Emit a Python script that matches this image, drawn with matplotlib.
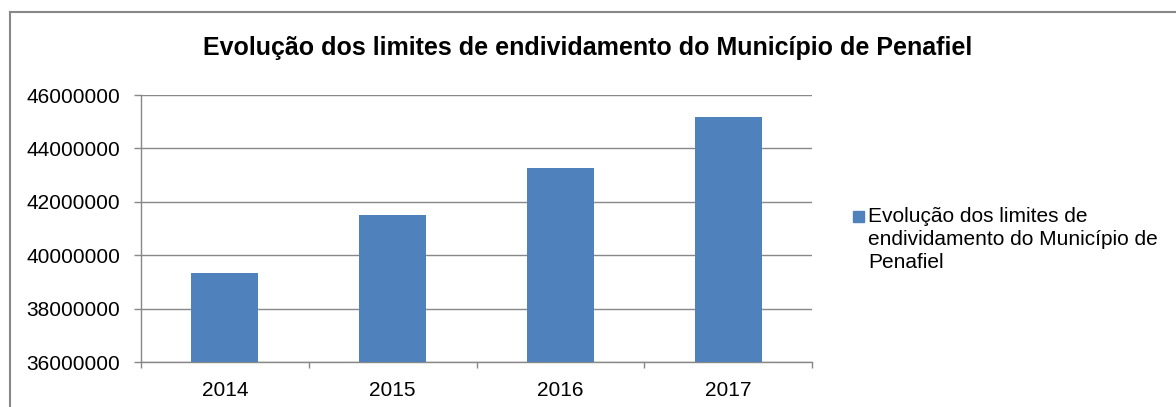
import matplotlib.pyplot as plt
import numpy as np
from matplotlib.lines import Line2D
from matplotlib.patches import Rectangle

# chart values
years = ['2014', '2015', '2016', '2017']
limites = [39320000, 41490000, 43280000, 45190000]
yticks = [36000000, 38000000, 40000000, 42000000, 44000000, 46000000]
title = 'Evolução dos limites de endividamento do Município de Penafiel'
serie = 'Evolução dos limites de\nendividamento do Município de\nPenafiel'

plt.rcParams['font.family'] = ['Liberation Sans', 'DejaVu Sans']

W, H = 1176, 407
fig = plt.figure(figsize=(W / 100, H / 100), dpi=100)
ax = fig.add_axes([141 / W, 1 - 362 / H, (812 - 141) / W, (362 - 95) / H])

x = np.arange(len(years))
bar_color = '#4F81BD'
bars = ax.bar(x, limites, width=0.4, color=bar_color, label=serie, zorder=3)

ax.set_ylim(36000000, 46000000)
ax.set_xlim(-0.5, 3.5)
ax.set_yticks(yticks)
ax.set_yticklabels([str(v) for v in yticks], fontsize=15)
ax.set_xticks(x)
ax.set_xticklabels(years, fontsize=15)
ax.set_xticks(np.arange(-0.5, 4, 1), minor=True)

# gridlines and axis styling
ax.yaxis.grid(True, color='#888888', linewidth=1.0, zorder=0)
for s in ['top', 'right']:
    ax.spines[s].set_visible(False)
for s in ['left', 'bottom']:
    ax.spines[s].set_color('#888888')
    ax.spines[s].set_linewidth(1.0)
ax.tick_params(axis='y', length=5, width=1.0, color='#888888', pad=10)
ax.tick_params(axis='x', which='major', length=0, pad=14)
ax.tick_params(axis='x', which='minor', length=4, width=1.0, color='#888888')

fig.text(588 / W, 1 - 48 / H, title, ha='center', va='center',
         fontsize=18, fontweight='bold')

# legend: square marker next to the first line of the wrapped label
fig.add_artist(Rectangle((853 / W, 1 - 222 / H), 11 / W, 11 / H,
                         transform=fig.transFigure, color=bar_color))
fig.text(868 / W, 1 - 207 / H, serie, ha='left', va='top',
         fontsize=15, linespacing=1.28)

# outer chart frame (top and left edges visible)
fig.add_artist(Line2D([10 / W, 10 / W], [0, 1 - 12 / H],
                      transform=fig.transFigure, color='#888888', linewidth=1.5))
fig.add_artist(Line2D([10 / W, 1], [1 - 12 / H, 1 - 12 / H],
                      transform=fig.transFigure, color='#888888', linewidth=1.5))

fig.savefig('out.png', dpi=100)
